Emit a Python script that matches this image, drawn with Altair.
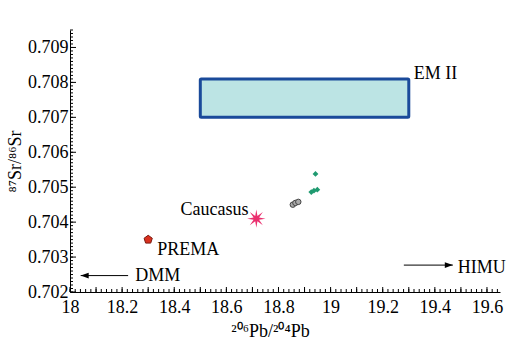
import math
import altair as alt
import pandas as pd

# ---- data ----
em2_x1, em2_x2 = [18.5], [19.3]
em2_y1, em2_y2 = [0.707], [0.7081]

caucasus_x = [18.715]
caucasus_y = [0.7041]

prema_x = [18.30]
prema_y = [0.7035]

gray_x = [18.855, 18.865, 18.876]
gray_y = [0.70450, 0.70455, 0.70458]

green_x = [18.942, 18.926, 18.936, 18.949]
green_y = [0.70538, 0.70486, 0.70490, 0.70493]

dmm_tip_x, dmm_end_x, dmm_y = [18.041], [18.223], [0.70247]
himu_tip_x, himu_end_x, himu_y = [19.469], [19.281], [0.70277]

label_text = ["EM II", "Caucasus", "PREMA", "DMM", "HIMU"]
label_x = [19.319, 18.685, 18.335, 18.25, 19.488]
label_y = [0.70811, 0.70421, 0.70306, 0.70232, 0.70255]
label_align = ["left", "right", "left", "left", "left"]

x_tick_labels = [18, 18.2, 18.4, 18.6, 18.8, 19, 19.2, 19.4, 19.6]
y_tick_labels = [0.702, 0.703, 0.704, 0.705, 0.706, 0.707, 0.708, 0.709]

X_DOMAIN = [18, 19.65]
Y_DOMAIN = [0.702, 0.7095]
W, H = 430, 262
FONT = "Liberation Serif"

xs = alt.Scale(domain=X_DOMAIN, nice=False, zero=False)
ys = alt.Scale(domain=Y_DOMAIN, nice=False, zero=False)

x_axis = alt.Axis(values=x_tick_labels, format="~g", ticks=False, grid=False,
                  domainColor="black", labelFont=FONT, labelFontSize=18,
                  labelColor="black", labelPadding=6, labelFlush=False,
                  labelOverlap=False,
                  titleFont=FONT, titleFontSize=18,
                  titleFontWeight="normal", titleColor="black", titlePadding=6,
                  titleX=200)
y_axis = alt.Axis(values=y_tick_labels, format=".3f", ticks=False, grid=False,
                  domainColor="black", labelFont=FONT, labelFontSize=18,
                  labelColor="black", labelPadding=2, labelFlush=False,
                  labelOverlap=False,
                  titleFont=FONT, titleFontSize=18,
                  titleFontWeight="normal", titleColor="black", titlePadding=3)

X_TITLE = "²⁰⁶Pb/²⁰⁴Pb"
Y_TITLE = "⁸⁷Sr/⁸⁶Sr"

XQ = lambda f: alt.X(f, scale=xs, axis=x_axis, title=X_TITLE)
YQ = lambda f: alt.Y(f, scale=ys, axis=y_axis, title=Y_TITLE)

# EM II box
box_df = pd.DataFrame({"x1": em2_x1, "x2": em2_x2, "y1": em2_y1, "y2": em2_y2})
box = alt.Chart(box_df).mark_rect(fill="#bce4e4", stroke="#1a4a9a",
                                  strokeWidth=3, cornerRadius=1).encode(
    x=XQ("x1:Q"), x2="x2:Q", y=YQ("y1:Q"), y2="y2:Q")

# inward axis ticks
x_minor = [round(18 + 0.02 * i, 2) for i in range(0, 83)]
x_major = [round(18 + 0.1 * i, 1) for i in range(0, 17)]
y_minor = [round(0.702 + 0.0001 * i, 4) for i in range(0, 76)]
y_major = y_tick_labels

def xticks(vals, ln):
    return alt.Chart(pd.DataFrame({"v": vals})).mark_rule(color="black", strokeWidth=1).encode(
        x=XQ("v:Q"), y=alt.value(H), y2=alt.value(H - ln))

def yticks(vals, ln):
    return alt.Chart(pd.DataFrame({"v": vals})).mark_rule(color="black", strokeWidth=1).encode(
        y=YQ("v:Q"), x=alt.value(0), x2=alt.value(ln))

# shapes
def star_path(n=8, r_in=0.32):
    pts = []
    for i in range(2 * n):
        r = 1 if i % 2 == 0 else r_in
        a = math.pi * i / n - math.pi / 2
        pts.append(f"{r*math.cos(a):.3f},{r*math.sin(a):.3f}")
    return "M" + "L".join(pts) + "Z"

def poly_path(n=5):
    pts = []
    for i in range(n):
        a = 2 * math.pi * i / n - math.pi / 2
        pts.append(f"{math.cos(a):.3f},{math.sin(a):.3f}")
    return "M" + "L".join(pts) + "Z"

star = alt.Chart(pd.DataFrame({"x": caucasus_x, "y": caucasus_y})).mark_point(
    shape=star_path(), filled=True, color="#ea2f6e", size=340, opacity=1).encode(
    x=XQ("x:Q"), y=YQ("y:Q"))

prema = alt.Chart(pd.DataFrame({"x": prema_x, "y": prema_y})).mark_point(
    shape=poly_path(), filled=True, fill="#d9301e", stroke="#7a1a10", strokeWidth=1,
    size=75, opacity=1).encode(x=XQ("x:Q"), y=YQ("y:Q"))

gray = alt.Chart(pd.DataFrame({"x": gray_x, "y": gray_y})).mark_point(
    shape="circle", filled=True, fill="#aaaaaa", stroke="#444444", strokeWidth=1,
    size=30, opacity=1).encode(x=XQ("x:Q"), y=YQ("y:Q"))

green = alt.Chart(pd.DataFrame({"x": green_x, "y": green_y})).mark_point(
    shape="diamond", filled=True, color="#1f9a70", size=34, opacity=1).encode(
    x=XQ("x:Q"), y=YQ("y:Q"))

# arrows
arr_df = pd.DataFrame({"tip": dmm_tip_x + himu_tip_x, "end": dmm_end_x + himu_end_x,
                       "y": dmm_y + himu_y})
arr_lines = alt.Chart(arr_df).mark_rule(color="black", strokeWidth=1).encode(
    x=XQ("tip:Q"), x2="end:Q", y=YQ("y:Q"))
head_l = alt.Chart(pd.DataFrame({"x": dmm_tip_x, "y": dmm_y})).mark_point(
    shape="M-1,0L1,-0.7L1,0.7Z", filled=True, color="black", size=64, xOffset=4, opacity=1).encode(
    x=XQ("x:Q"), y=YQ("y:Q"))
head_r = alt.Chart(pd.DataFrame({"x": himu_tip_x, "y": himu_y})).mark_point(
    shape="M1,0L-1,-0.7L-1,0.7Z", filled=True, color="black", size=64, xOffset=-4, opacity=1).encode(
    x=XQ("x:Q"), y=YQ("y:Q"))

lab_df = pd.DataFrame({"t": label_text, "x": label_x, "y": label_y, "a": label_align})
labels_left = alt.Chart(lab_df[lab_df.a == "left"]).mark_text(
    font=FONT, fontSize=18, color="black", align="left", baseline="alphabetic").encode(
    x=XQ("x:Q"), y=YQ("y:Q"), text="t:N")
labels_right = alt.Chart(lab_df[lab_df.a == "right"]).mark_text(
    font=FONT, fontSize=18, color="black", align="right", baseline="alphabetic").encode(
    x=XQ("x:Q"), y=YQ("y:Q"), text="t:N")

chart = alt.layer(
    box,
    xticks(x_minor, 3), xticks(x_major, 5),
    yticks(y_minor, 3), yticks(y_major, 6),
    arr_lines, head_l, head_r,
    gray, green, prema, star,
    labels_left, labels_right,
).properties(
    width=W, height=H,
    autosize=alt.AutoSizeParams(type="none"),
    padding={"left": 70, "top": 30, "right": 18, "bottom": 60},
    background="white",
).configure_view(stroke=None).configure_axis(
    labelFont=FONT, titleFont=FONT, labelFontSize=18, titleFontSize=18,
    labelColor="black", titleColor="black", titleFontWeight="normal",
    labelOverlap=False, grid=False, ticks=False, domainColor="black")

chart.save("out.html", embed_options={"renderer": "svg", "actions": False})
